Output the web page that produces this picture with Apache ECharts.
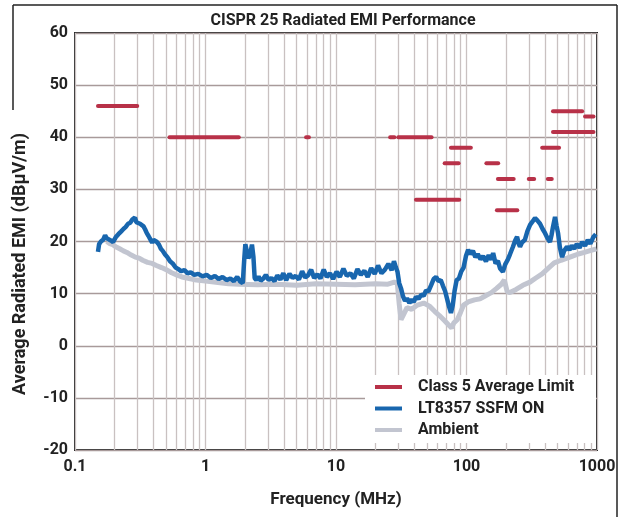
<!DOCTYPE html>
<html>
<head>
<meta charset="utf-8">
<script src="https://cdn.jsdelivr.net/npm/echarts@6/dist/echarts.min.js"></script>
<style>
  html, body { margin: 0; padding: 0; background: #fff; }
  #emi-chart { width: 625px; height: 517px; }
</style>
</head>
<body>
<div id="emi-chart"></div>
<script>
// frequency axis labels (MHz)
const xTicks = [0.1, 1, 10, 100, 1000];
// minor log gridlines 2..9 in every decade
const gridDecades = [0.1, 1, 10, 100];
const gridSteps = [2, 3, 4, 5, 6, 7, 8, 9];

// Class 5 average limit: [fStart, fEnd, dBuV/m]
const limitSegments = [
  [0.15, 0.30, 46],
  [0.53, 1.8, 40],
  [5.9, 6.2, 40],
  [26, 28, 40],
  [30, 54, 40],
  [41, 88, 28],
  [68, 87, 35],
  [76, 108, 38],
  [142, 175, 35],
  [174, 230, 32],
  [171, 245, 26],
  [300, 330, 32],
  [420, 450, 32],
  [380, 512, 38],
  [460, 770, 45],
  [810, 940, 44],
  [460, 940, 41]
];

// LT8357 SSFM ON: [MHz, dBuV/m]
const ssfmOn = [
  [0.150, 18.0], [0.153, 19.5], [0.158, 20.0], [0.165, 20.4], [0.170, 21.2], [0.175, 20.6],
  [0.180, 20.9], [0.188, 20.2], [0.196, 19.9], [0.205, 20.8], [0.215, 21.4], [0.225, 21.9],
  [0.235, 22.4], [0.245, 22.8], [0.255, 23.4], [0.265, 23.6], [0.275, 24.2], [0.288, 24.6],
  [0.295, 23.7], [0.305, 24.0], [0.315, 23.4], [0.325, 23.6], [0.335, 22.9], [0.345, 22.3],
  [0.355, 21.6], [0.365, 21.1], [0.378, 20.4], [0.390, 19.8], [0.400, 20.3], [0.412, 20.6],
  [0.425, 19.9], [0.440, 19.4], [0.455, 18.6], [0.470, 18.2], [0.490, 17.5], [0.510, 17.0],
  [0.535, 16.2], [0.560, 15.8], [0.590, 15.0], [0.620, 14.7], [0.650, 14.3], [0.690, 14.5],
  [0.730, 13.9], [0.770, 14.1], [0.820, 13.6], [0.880, 13.8], [0.950, 13.3], [1.02, 13.6],
  [1.10, 13.0], [1.18, 13.4], [1.26, 12.8], [1.35, 13.2], [1.45, 12.6], [1.55, 12.9],
  [1.65, 12.4], [1.75, 13.2], [1.85, 12.3], [1.93, 12.0], [1.98, 16.5], [2.02, 19.5],
  [2.08, 18.0], [2.13, 16.8], [2.20, 17.5], [2.27, 19.4], [2.33, 17.0], [2.38, 13.0],
  [2.45, 12.6], [2.55, 13.3], [2.65, 12.5], [2.78, 12.9], [2.90, 13.6], [3.05, 12.6],
  [3.20, 13.0], [3.38, 12.4], [3.55, 13.5], [3.75, 12.7], [3.95, 13.9], [4.15, 12.6],
  [4.40, 13.8], [4.65, 13.0], [4.90, 13.4], [5.20, 12.7], [5.50, 14.3], [5.80, 13.1],
  [6.10, 13.5], [6.45, 14.6], [6.80, 13.0], [7.20, 13.7], [7.60, 12.9], [8.05, 14.6],
  [8.50, 13.2], [9.00, 13.9], [9.50, 12.8], [10.1, 14.2], [10.7, 13.2], [11.4, 14.8],
  [12.1, 13.4], [12.9, 13.9], [13.7, 12.9], [14.6, 14.7], [15.5, 13.6], [16.5, 14.4],
  [17.5, 13.2], [18.6, 14.9], [19.8, 13.8], [21.0, 15.4], [22.3, 13.9], [23.7, 14.6],
  [25.2, 15.7], [26.7, 14.5], [27.8, 16.2], [28.8, 15.0], [29.6, 14.2], [30.5, 12.0],
  [31.5, 11.0], [32.6, 9.5], [33.8, 8.6], [35.0, 9.1], [36.5, 8.2], [38.0, 8.9],
  [39.5, 8.4], [41.0, 9.4], [43.0, 9.0], [45.0, 9.8], [47.0, 9.6], [49.0, 10.6],
  [51.0, 10.4], [53.5, 11.6], [56.0, 12.8], [58.5, 13.2], [61.0, 12.4], [63.5, 12.6],
  [66.0, 11.5], [68.5, 10.5], [71.0, 9.0], [73.5, 7.5], [76.0, 6.3], [78.5, 7.8],
  [81.0, 10.5], [84.0, 12.6], [87.5, 12.9], [91.0, 14.2], [95.0, 15.0], [99.0, 17.2],
  [103, 18.4], [107, 17.6], [112, 18.2], [117, 17.0], [122, 17.6], [128, 16.6],
  [134, 17.2], [141, 16.2], [148, 17.4], [155, 16.5], [160, 17.8], [167, 15.8],
  [174, 16.3], [181, 14.8], [190, 14.2], [198, 15.6], [206, 16.4], [215, 17.5],
  [227, 19.0], [236, 20.2], [244, 20.9], [251, 19.6], [257, 19.0], [266, 19.8],
  [280, 20.3], [293, 22.0], [307, 23.2], [320, 23.8], [335, 24.5], [350, 24.0],
  [366, 23.4], [383, 22.4], [400, 21.6], [418, 20.6], [436, 19.9], [448, 21.2],
  [460, 22.8], [477, 24.7], [490, 23.0], [503, 21.6], [520, 18.8], [540, 17.0],
  [560, 18.2], [589, 19.0], [615, 18.4], [640, 19.2], [670, 18.6], [700, 19.5],
  [735, 18.8], [770, 19.9], [810, 19.2], [850, 20.3], [890, 19.6], [935, 20.8],
  [980, 21.4]
];

// Ambient: [MHz, dBuV/m]
const ambient = [
  [0.175, 20.0], [0.185, 19.6], [0.195, 19.4], [0.205, 19.0], [0.22, 18.6], [0.235, 18.2],
  [0.25, 17.9], [0.27, 17.4], [0.29, 17.0], [0.31, 16.8], [0.33, 16.4], [0.36, 16.0],
  [0.39, 15.8], [0.42, 15.4], [0.46, 15.0], [0.50, 14.6], [0.55, 14.0], [0.60, 13.6],
  [0.66, 13.2], [0.75, 12.9], [0.85, 12.6], [1.0, 12.4], [1.2, 12.2], [1.5, 11.9],
  [1.8, 11.8], [2.5, 11.7], [3.5, 11.8], [5, 11.6], [7, 11.9], [10, 11.8],
  [14, 11.7], [20, 11.9], [25, 11.8], [28, 12.2], [29.5, 12.0], [30.5, 8.0],
  [31.5, 5.0], [33, 6.0], [35, 7.3], [38, 7.0], [42, 7.8], [47, 8.2],
  [52, 7.6], [57, 6.6], [62, 5.8], [68, 4.8], [73, 4.0], [77, 3.4],
  [80, 4.4], [85, 5.0], [90, 6.4], [95, 7.8], [103, 8.4], [115, 8.8],
  [127, 9.0], [140, 9.6], [155, 10.2], [170, 11.0], [185, 11.8], [195, 12.6],
  [205, 10.4], [215, 10.2], [240, 10.8], [270, 11.6], [306, 12.2], [340, 13.0],
  [380, 13.8], [420, 14.8], [470, 15.9], [530, 16.4], [590, 16.8], [650, 17.2],
  [720, 17.6], [800, 17.9], [900, 18.3], [990, 18.6]
];

const LIMIT = 'Class 5 Average Limit';
const SSFM = 'LT8357 SSFM ON';
const AMB = 'Ambient';
const fontFamily = 'Roboto, "Liberation Sans", sans-serif';

const minorGrid = [];
gridDecades.forEach(d => gridSteps.forEach(s => minorGrid.push(+(d * s).toPrecision(3))));

const emiChart = echarts.init(document.getElementById('emi-chart'));

const limitSeries = limitSegments.map(seg => ({
  name: LIMIT,
  type: 'line',
  z: 4,
  symbol: 'none',
  silent: true,
  data: [[seg[0], seg[2]], [seg[1], seg[2]]],
  lineStyle: { color: '#b83148', width: 4, cap: 'round' },
  itemStyle: { color: '#b83148' }
}));

const option = {
  animation: false,
  textStyle: { fontFamily: fontFamily },
  title: {
    text: 'CISPR 25 Radiated EMI Performance',
    left: 338,
    textAlign: 'center',
    top: 8,
    textStyle: { fontSize: 16, fontWeight: 'bold', color: '#222', fontFamily: fontFamily }
  },
  grid: {
    left: 75,
    right: 28,
    top: 33,
    bottom: 67,
    show: true,
    borderColor: '#2a2a2a',
    borderWidth: 2
  },
  legend: {
    data: [LIMIT, SSFM, AMB],
    orient: 'vertical',
    left: 375,
    top: 378,
    z: 10,
    padding: 0,
    itemGap: 3.5,
    itemWidth: 27,
    itemHeight: 4,
    icon: 'rect',
    textStyle: { fontSize: 16, fontWeight: 'bold', color: '#222', lineHeight: 18, padding: [0, 0, 0, 11] }
  },
  xAxis: {
    type: 'log',
    logBase: 10,
    min: 0.1,
    max: 1000,
    name: 'Frequency (MHz)',
    nameLocation: 'middle',
    nameGap: 41,
    nameTextStyle: { fontSize: 17, fontWeight: 'bold', color: '#222' },
    axisLine: { show: false },
    axisTick: { show: false },
    axisLabel: {
      margin: 9,
      fontSize: 16,
      fontWeight: 'bold',
      color: '#222',
      formatter: v => (xTicks.indexOf(v) >= 0 ? String(v) : '')
    },
    splitLine: { show: true, lineStyle: { color: '#c9c1c1', width: 1.3 } }
  },
  yAxis: {
    type: 'value',
    min: -20,
    max: 60,
    interval: 10,
    axisLine: { show: false },
    axisTick: { show: false },
    axisLabel: { margin: 7, fontSize: 16, fontWeight: 'bold', color: '#222' },
    splitLine: { show: true, lineStyle: { color: '#a89a9a', width: 1.3 } }
  },
  graphic: [
    { type: 'rect', z: 5, silent: true, shape: { x: 365, y: 375, width: 231, height: 68 }, style: { fill: '#fff' } },
    {
      type: 'text',
      x: 20,
      y: 264,
      rotation: Math.PI / 2,
      style: {
        text: 'Average Radiated EMI (dBµV/m)',
        fill: '#222',
        font: 'bold 18px ' + fontFamily,
        align: 'center',
        verticalAlign: 'middle'
      }
    },
    { type: 'line', shape: { x1: 13, y1: 5, x2: 617, y2: 5 }, style: { stroke: '#222', lineWidth: 1.5 } },
    { type: 'line', shape: { x1: 617, y1: 5, x2: 617, y2: 517 }, style: { stroke: '#222', lineWidth: 1.5 } },
    { type: 'line', shape: { x1: 13, y1: 5, x2: 13, y2: 110 }, style: { stroke: '#222', lineWidth: 1.5 } }
  ],
  series: [
    {
      name: 'minor-grid',
      type: 'line',
      data: [],
      z: 1,
      silent: true,
      markLine: {
        z: 1,
        silent: true,
        symbol: ['none', 'none'],
        label: { show: false },
        lineStyle: { color: '#c9c1c1', width: 1.3, type: 'solid' },
        data: minorGrid.map(v => ({ xAxis: v }))
      }
    },
    {
      name: AMB,
      type: 'line',
      z: 2,
      symbol: 'none',
      data: ambient,
      lineStyle: { color: '#c2c5d0', width: 5 },
      itemStyle: { color: '#c2c5d0' }
    },
    {
      name: SSFM,
      type: 'line',
      z: 3,
      symbol: 'none',
      data: ssfmOn,
      lineStyle: { color: '#1866ae', width: 4.5 },
      itemStyle: { color: '#1866ae' }
    }
  ].concat(limitSeries)
};

emiChart.setOption(option);
</script>
</body>
</html>
